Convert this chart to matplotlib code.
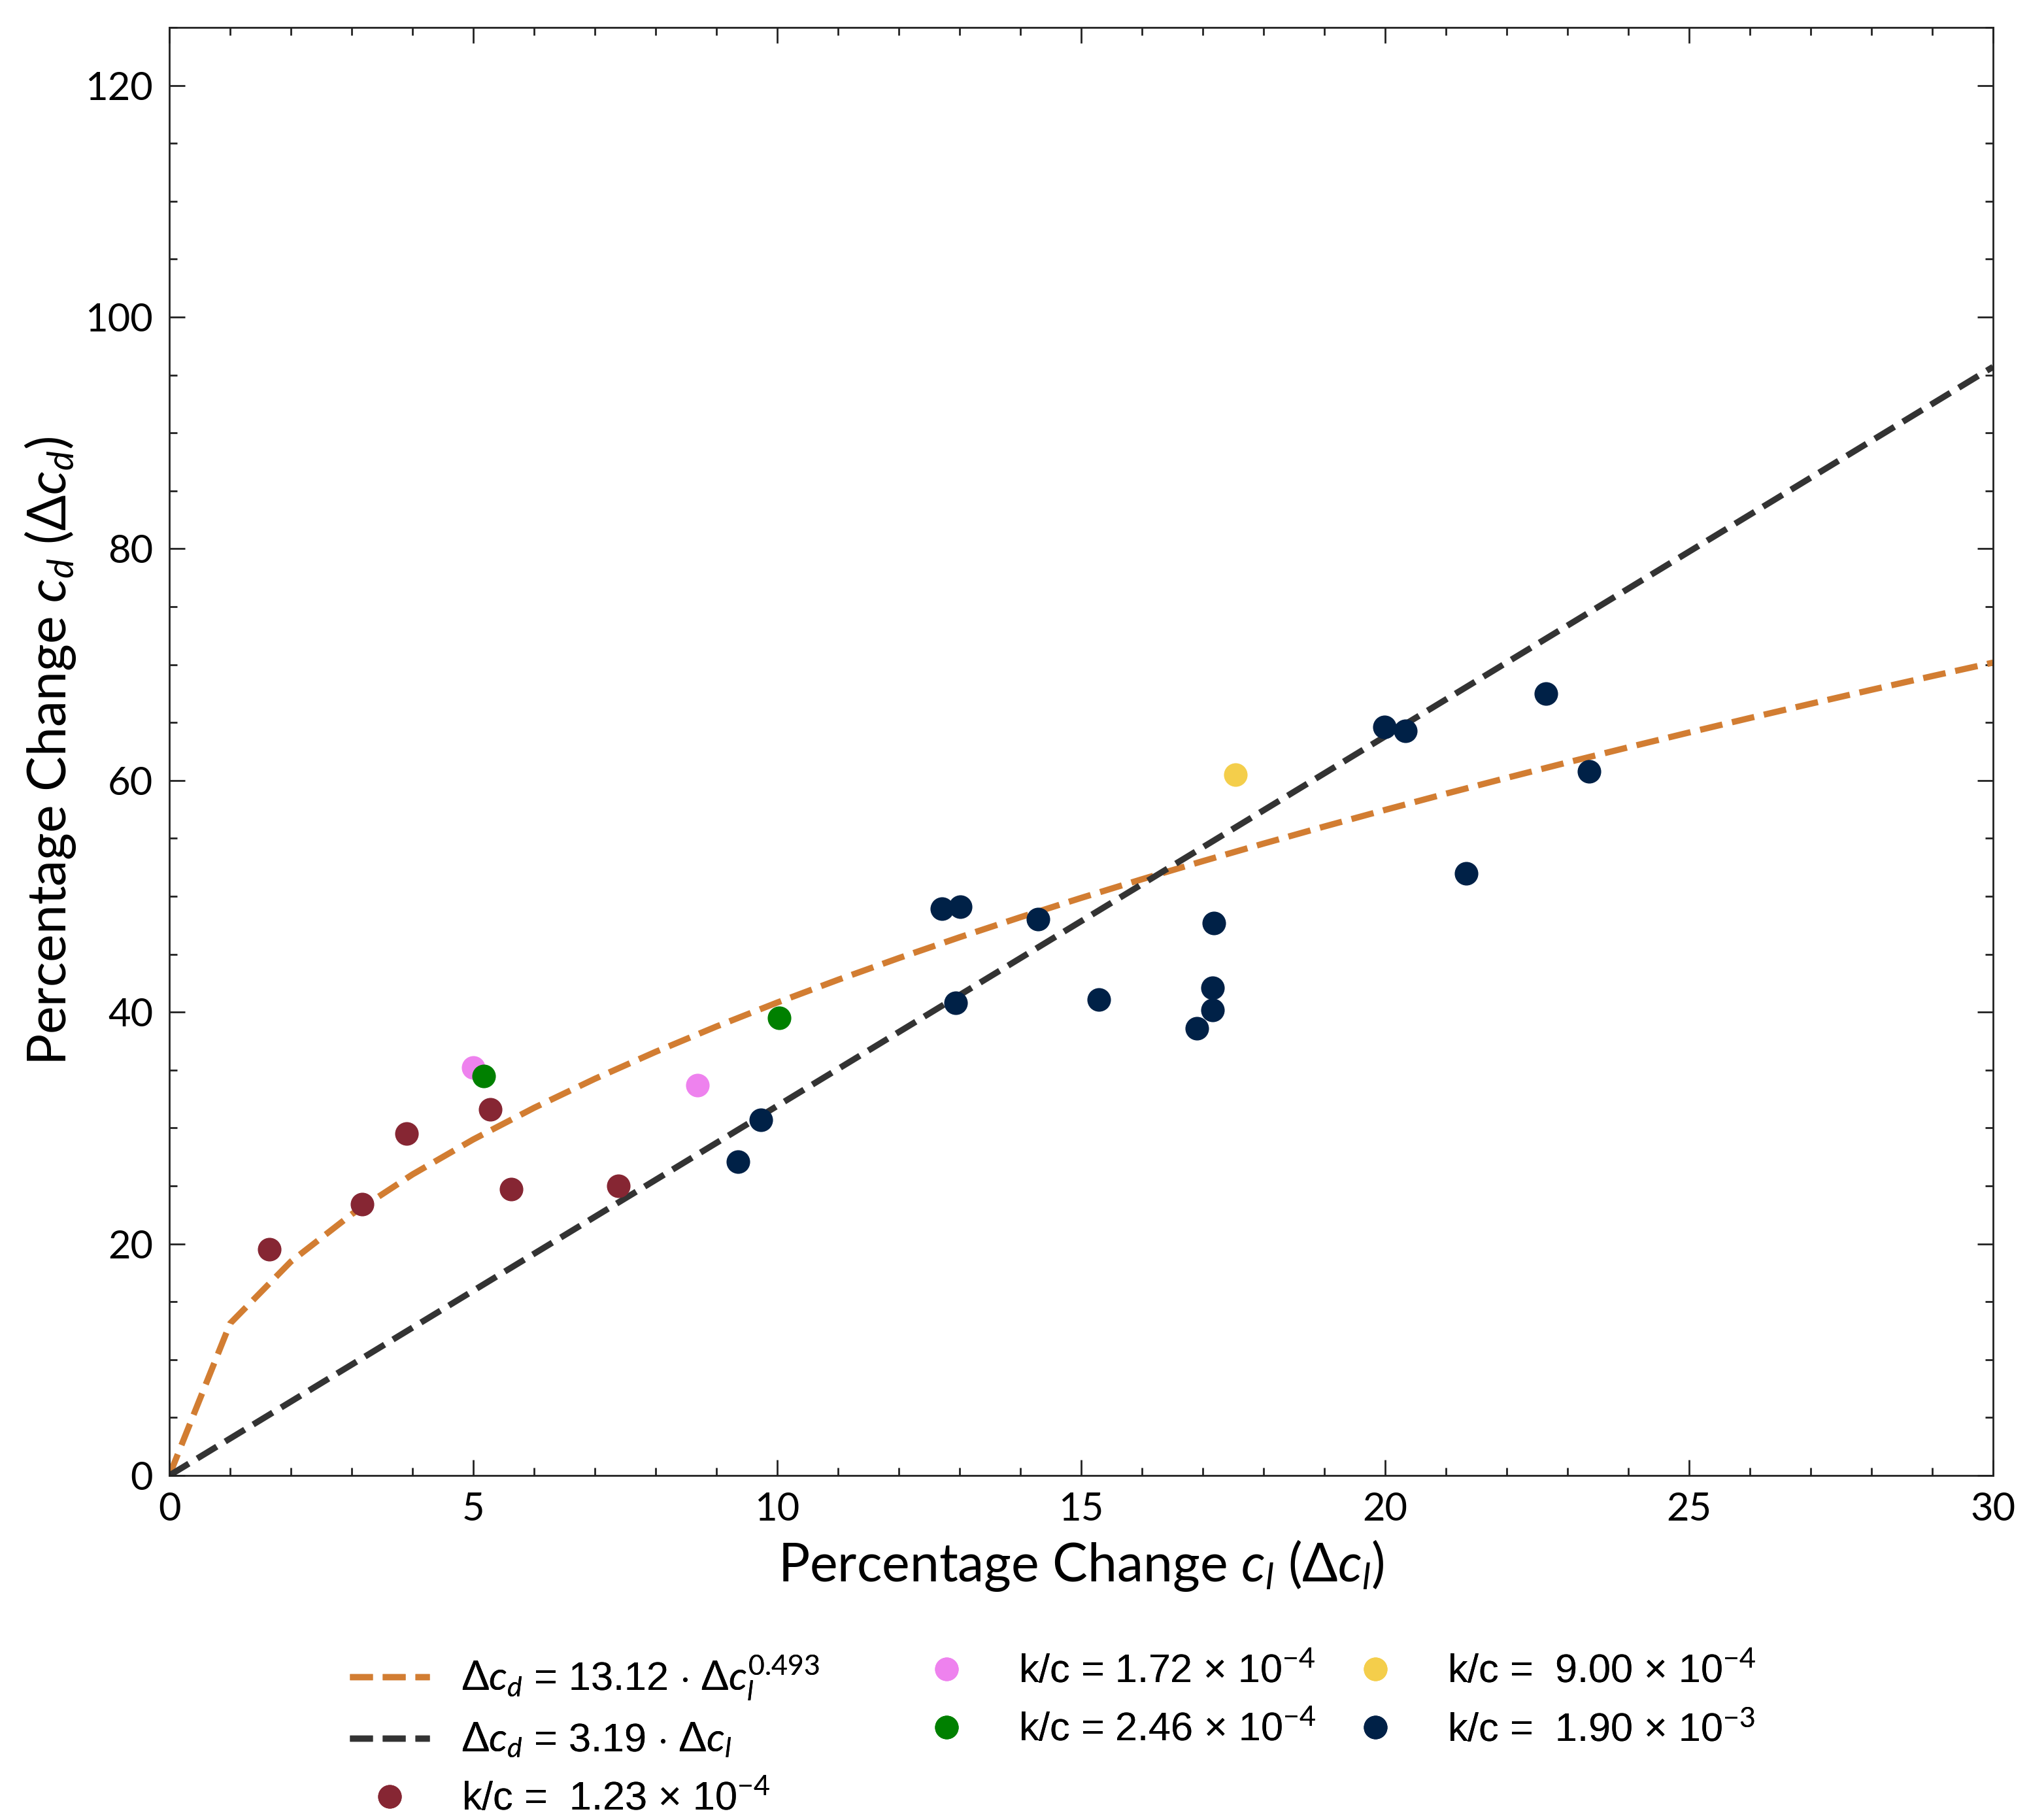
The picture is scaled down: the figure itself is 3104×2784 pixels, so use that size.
import numpy as np
import matplotlib
matplotlib.use('Agg')
import matplotlib.pyplot as plt
from matplotlib.ticker import MultipleLocator
from matplotlib import font_manager as fm
from matplotlib.lines import Line2D

# ---------------- data ----------------
kc_123_x = [1.64, 3.17, 3.90, 5.28, 5.62, 7.39]
kc_123_y = [19.5, 23.4, 29.5, 31.6, 24.7, 25.0]

kc_172_x = [5.00, 8.69]
kc_172_y = [35.2, 33.7]

kc_246_x = [5.17, 10.03]
kc_246_y = [34.5, 39.5]

kc_900_x = [17.54]
kc_900_y = [60.5]

kc_1900_x = [9.35, 9.73, 12.71, 13.01, 12.94, 14.29, 15.29, 16.90, 17.16,
             17.16, 17.18, 19.99, 20.33, 21.33, 22.65, 23.36]
kc_1900_y = [27.1, 30.7, 48.9, 49.1, 40.8, 48.0, 41.1, 38.6, 40.2,
             42.1, 47.7, 64.6, 64.3, 52.0, 67.5, 60.8]

power_coef = 13.12
power_exp = 0.493
lin_coef = 3.19
fit_x = np.arange(0, 31)

series_labels = [r'k/c =  1.23 × 10$^{-4}$', r'k/c = 1.72 × 10$^{-4}$',
                 r'k/c = 2.46 × 10$^{-4}$', r'k/c =  9.00 × 10$^{-4}$',
                 r'k/c =  1.90 × 10$^{-3}$']
series_colors = ['#862633', '#EE82EE', '#008000', '#F4CE4B', '#002147']

# ---------------- fonts ----------------
def pick(names):
    avail = {f.name for f in fm.fontManager.ttflist}
    for n in names:
        if n in avail:
            return n
    return 'DejaVu Sans'

MAIN = pick(['Lato', 'Open Sans', 'Noto Sans'])
LEG = pick(['Liberation Sans Narrow', 'Liberation Sans'])

plt.rcParams['font.family'] = [MAIN, 'DejaVu Sans']
plt.rcParams['mathtext.fontset'] = 'custom'
plt.rcParams['mathtext.rm'] = MAIN
plt.rcParams['mathtext.it'] = MAIN + ':italic'
plt.rcParams['mathtext.bf'] = MAIN + ':bold'

DPI = 200
W, H = 3104, 2784
fig = plt.figure(figsize=(W / DPI, H / DPI), dpi=DPI)
ax = fig.add_axes([259 / W, 1 - 2257 / H, (3049 - 259) / W, (2257 - 42) / H])

LW = 3.4
MS = 13
ORANGE = '#D27D32'
DARK = '#333333'

ax.plot(fit_x, power_coef * fit_x ** power_exp, ls='--', color=ORANGE,
        lw=LW, zorder=2)
ax.plot(fit_x, lin_coef * fit_x, ls='--', color=DARK, lw=LW, zorder=2)

xs = [kc_123_x, kc_172_x, kc_246_x, kc_900_x, kc_1900_x]
ys = [kc_123_y, kc_172_y, kc_246_y, kc_900_y, kc_1900_y]
for x, y, c in zip(xs, ys, series_colors):
    ax.plot(x, y, 'o', color=c, ms=MS, mec='none', zorder=3)

ax.set_xlim(0, 30)
ax.set_ylim(0, 125)
ax.xaxis.set_major_locator(MultipleLocator(5))
ax.xaxis.set_minor_locator(MultipleLocator(1))
ax.yaxis.set_major_locator(MultipleLocator(20))
ax.yaxis.set_minor_locator(MultipleLocator(5))
ax.tick_params(which='both', direction='in', top=True, right=True,
               width=1.0, color='#222222', labelsize=21.5)
ax.tick_params(which='major', length=8.6, pad=9)
ax.tick_params(which='minor', length=4.3)
for s in ax.spines.values():
    s.set_linewidth(1.0)
    s.set_color('#222222')

ax.set_xlabel(r'Percentage Change $c_l$ ($\Delta c_l$)', fontsize=29, labelpad=6)
ax.set_ylabel(r'Percentage Change $c_d$ ($\Delta c_d$)', fontsize=29, labelpad=4)

handles = [Line2D([], [], ls='--', color=ORANGE, lw=LW),
           Line2D([], [], ls='--', color=DARK, lw=LW)]
labels = [r'$\Delta c_d$ = 13.12 $\cdot$ $\Delta c_l^{0.493}$',
          r'$\Delta c_d$ = 3.19 $\cdot$ $\Delta c_l$']
for c, l in zip(series_colors, series_labels):
    handles.append(Line2D([], [], ls='none', marker='o', color=c, ms=MS, mec='none'))
    labels.append(l)

cols = [(0, 3, 535), (3, 5, 1387), (5, 7, 2043)]
leg_kw = dict(loc='upper left', frameon=False,
              prop={'family': [LEG, 'DejaVu Sans'], 'size': 22},
              handlelength=2.0, handletextpad=0.8, labelspacing=0.5,
              borderpad=0, borderaxespad=0)
for a, b, xpx in cols:
    leg = fig.legend(handles[a:b], labels[a:b],
                     bbox_to_anchor=(xpx / W, 1 - 2529 / H), **leg_kw)
    fig.add_artist(leg)

fig.savefig('out.png', dpi=DPI)
